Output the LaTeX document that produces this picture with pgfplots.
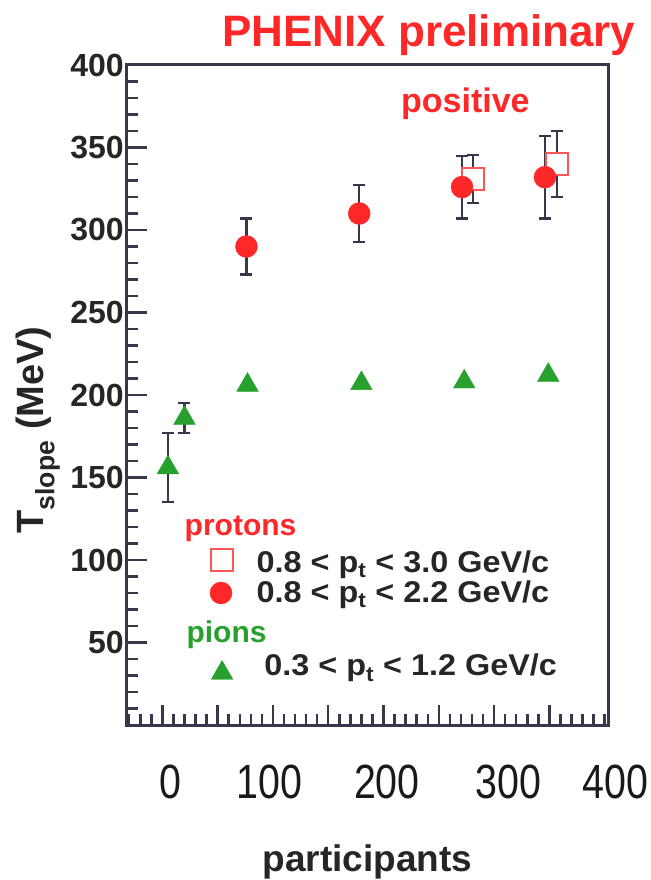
\documentclass[border=0pt]{standalone}
\usepackage{pgfplots}
\pgfplotsset{compat=1.18}
\usepackage{fontspec}
\setmainfont{Liberation Sans}
\usepackage{graphicx}
\definecolor{pred}{RGB}{255,40,40}
\definecolor{psq}{RGB}{255,85,85}
\definecolor{pgreen}{RGB}{40,160,45}
\definecolor{frm}{RGB}{55,55,75}
\newcommand\xl[1]{\scalebox{0.82}[1]{#1}}
\newcommand\legtxt[1]{\scalebox{1.08}[1]{#1}}
\begin{document}
\begin{tikzpicture}
\useasboundingbox (-127pt,-155pt) rectangle (523pt,725pt);
\begin{axis}[
  at={(0,0)}, anchor=south west,
  width=481pt, height=660pt, scale only axis,
  xmin=-32, xmax=403, ymin=0, ymax=400,
  clip=false,
  axis line style={frm, line width=3pt},
  xtick={0,50,...,350}, xticklabels={},
  minor xtick={-30,-20,...,400},
  ytick={50,100,...,400},
  minor ytick={10,20,...,390},
  tick align=inside, xtick pos=bottom, ytick pos=left,
  major tick length=20pt, minor tick length=11pt,
  tick style={frm, line width=2.5pt},
  extra x ticks={7,97,203,313,400},
  extra x tick labels={\xl{0},\xl{100},\xl{200},\xl{300},\hspace*{22pt}\xl{400}},
  extra x tick style={major tick length=0pt,
    tick label style={font=\fontsize{48}{48}\selectfont, anchor=center, yshift=-57pt, text=black!90}},
  /pgf/number format/assume math mode=true,
  yticklabel style={font=\fontsize{32}{32}\selectfont\bfseries, inner sep=0pt, xshift=-3pt, text=black!85},
  xlabel={participants},
  xlabel style={font=\fontsize{37}{37}\selectfont\bfseries, at={(axis description cs:0.5,-0.2227)}, anchor=base, text=black!85},
  ylabel={T\textsubscript{slope} (MeV)},
  ylabel style={font=\fontsize{38}{38}\selectfont\bfseries, at={(axis description cs:-0.185,0.447)}, anchor=center, text=black!85},
]
% protons 0.8 < pt < 3.0 (open squares)
\addplot[only marks, mark=square*, mark size=11pt,
  mark options={fill=white, draw=psq, line width=2pt},
  error bars/.cd, y dir=both, y explicit,
  error bar style={frm, line width=2.2pt},
  error mark options={rotate=90, mark size=6pt, line width=2.2pt, frm}]
  coordinates {(281,331) +- (0,14.5) (357,340) +- (0,20)};
% protons 0.8 < pt < 2.2 (filled circles)
\addplot[only marks, mark=*, mark size=11pt,
  mark options={fill=pred, draw=pred},
  error bars/.cd, y dir=both, y explicit,
  error bar style={frm, line width=2.2pt},
  error mark options={rotate=90, mark size=6pt, line width=2.2pt, frm}]
  coordinates {(76,290) +- (0,17) (178,310) +- (0,17.5) (271,326) +- (0,19) (346,332) +- (0,25)};
% pions with visible errors
\addplot[only marks, mark=triangle*, mark size=12.5pt,
  mark options={fill=pgreen, draw=pgreen},
  error bars/.cd, y dir=both, y explicit,
  error bar style={frm, line width=2.2pt},
  error mark options={rotate=90, mark size=6pt, line width=2.2pt, frm}]
  coordinates {(5,156) +- (0,21) (20,186) +- (0,9)};
% pions
\addplot[only marks, mark=triangle*, mark size=12.5pt,
  mark options={fill=pgreen, draw=pgreen}]
  coordinates {(77,206) (180,207) (273,208) (349,212)};
% legend markers
\addplot[only marks, mark=square*, mark size=11pt,
  mark options={fill=white, draw=psq, line width=2pt}] coordinates {(54,100)};
\addplot[only marks, mark=*, mark size=11pt,
  mark options={fill=pred, draw=pred}] coordinates {(53,80)};
\addplot[only marks, mark=triangle*, mark size=12.5pt,
  mark options={fill=pgreen, draw=pgreen}] coordinates {(54,31.5)};
% texts
\node[anchor=base, text=pred, font=\fontsize{44}{44}\selectfont\bfseries] at (axis cs:241,411) {PHENIX preliminary};
\node[anchor=base, text=pred, font=\fontsize{34}{34}\selectfont\bfseries] at (axis cs:274,371.5) {positive};
\node[anchor=base west, inner sep=0pt, text=pred, font=\fontsize{30}{30}\selectfont\bfseries] at (axis cs:20,115) {protons};
\node[anchor=base west, inner sep=0pt, text=black!85, font=\fontsize{30}{30}\selectfont\bfseries] at (axis cs:85,92.7) {\legtxt{0.8 < p\textsubscript{t} < 3.0 GeV/c}};
\node[anchor=base west, inner sep=0pt, text=black!85, font=\fontsize{30}{30}\selectfont\bfseries] at (axis cs:85,74.5) {\legtxt{0.8 < p\textsubscript{t} < 2.2 GeV/c}};
\node[anchor=base west, inner sep=0pt, text=pgreen, font=\fontsize{30}{30}\selectfont\bfseries] at (axis cs:21.7,49.7) {pions};
\node[anchor=base west, inner sep=0pt, text=black!85, font=\fontsize{30}{30}\selectfont\bfseries] at (axis cs:92,29.7) {\legtxt{0.3 < p\textsubscript{t} < 1.2 GeV/c}};
\end{axis}
\end{tikzpicture}
\end{document}
